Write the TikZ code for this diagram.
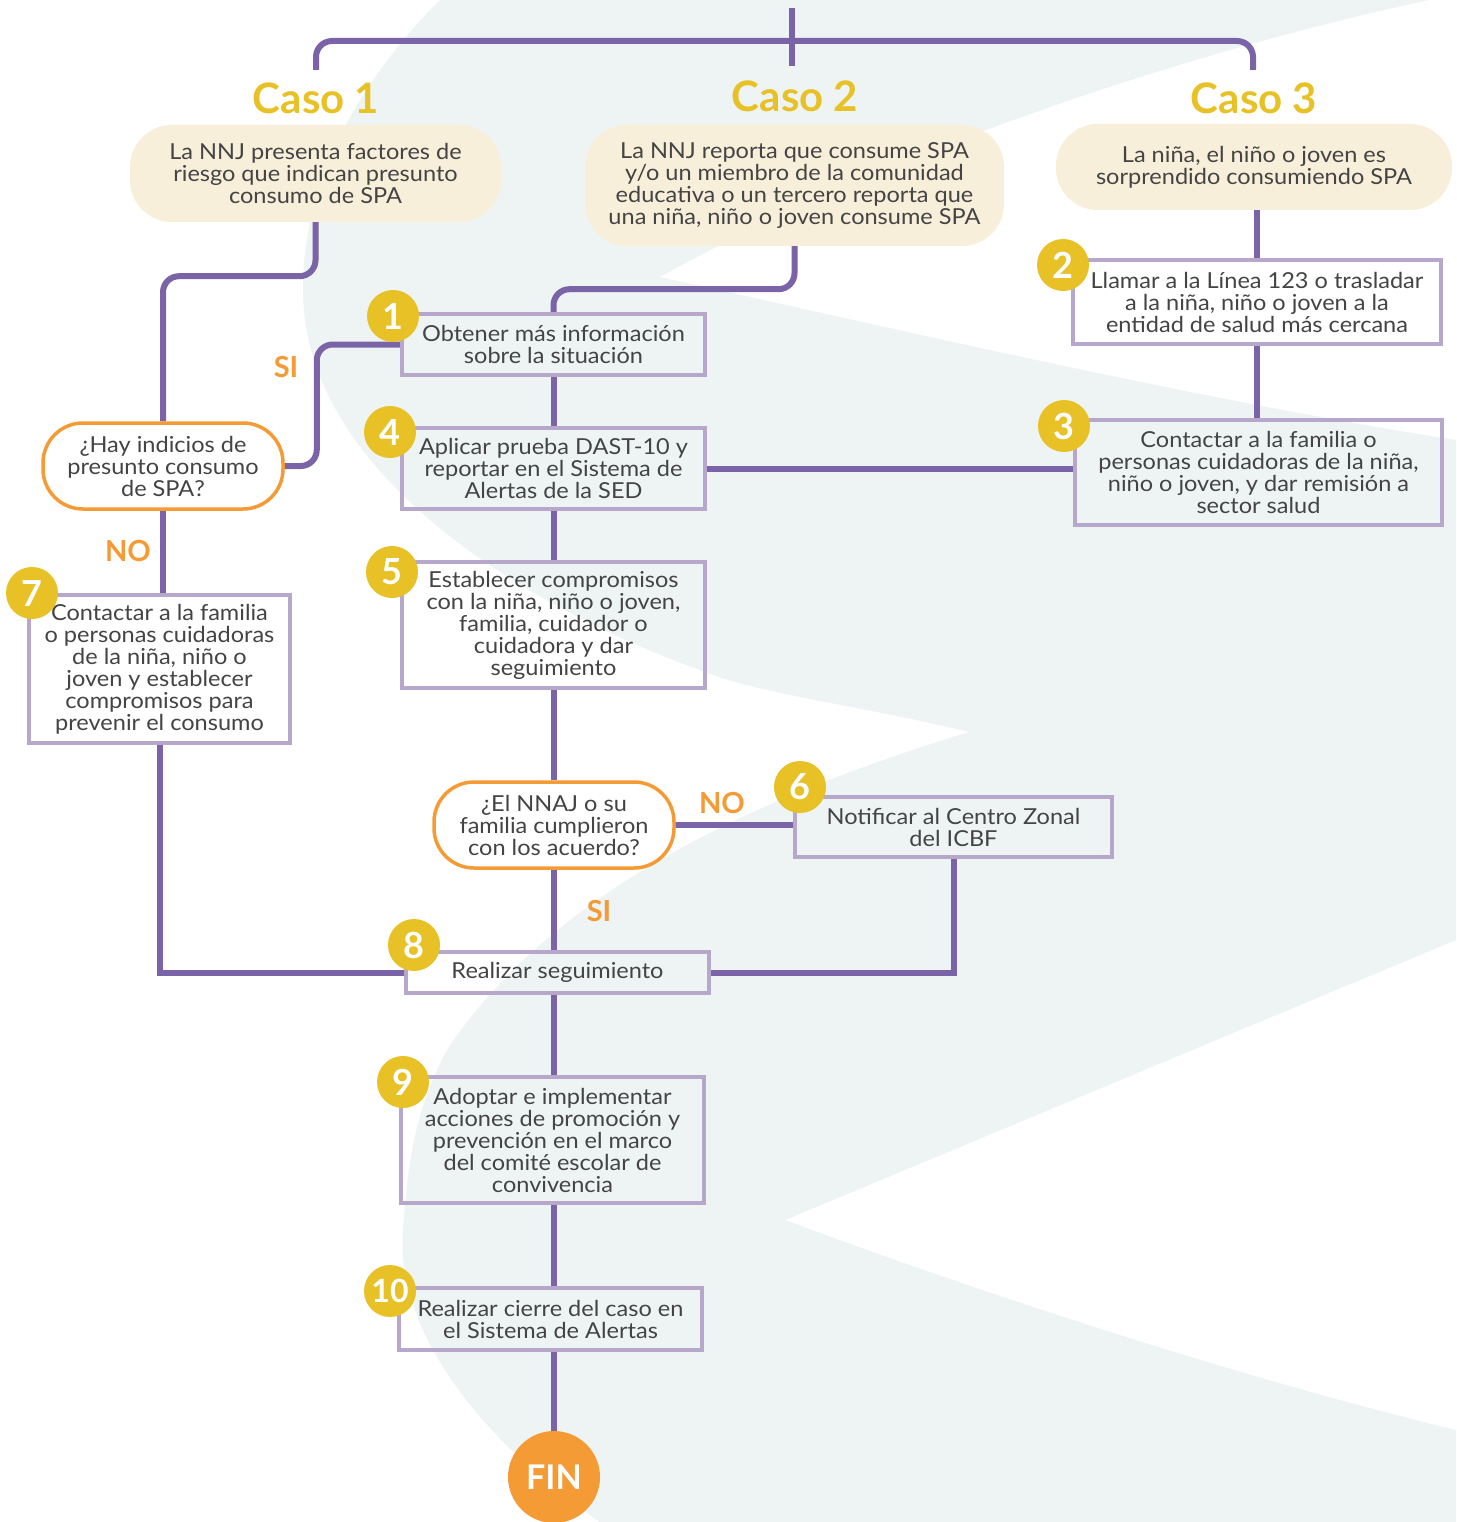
\documentclass[tikz,border=0pt]{standalone}
\usepackage{fontspec}
\setmainfont{Lato}
\newfontfamily\bodyfont{Lato}[FakeStretch=1.07]
\definecolor{lineP}{HTML}{7A63A6}
\definecolor{boxP}{HTML}{B6A7CB}
\definecolor{yellowC}{HTML}{E7C126}
\definecolor{orangeC}{HTML}{F59B35}
\definecolor{creamC}{HTML}{F8EFDA}
\definecolor{bgC}{HTML}{EEF4F4}
\definecolor{txtC}{HTML}{444444}
\pgfdeclarelayer{bglayer}
\pgfdeclarelayer{linelayer}
\pgfsetlayers{bglayer,linelayer,main}
\begin{document}
\begin{tikzpicture}[x=1pt,y=-1pt,
  conn/.style={draw=lineP, line width=6pt},
  txtfont/.style={font=\bodyfont\fontsize{22}{22}\selectfont, text=txtC, align=center},
  stepbox/.style={txtfont, draw=boxP, line width=4pt, rectangle, inner sep=0pt},
  cream/.style={txtfont, fill=creamC, rectangle, rounded corners=42pt, inner sep=0pt},
  dec/.style={txtfont, draw=orangeC, fill=white, line width=3.5pt, rectangle, rounded corners=40pt, inner sep=0pt},
  numc/.style={circle, fill=yellowC, text=white, font=\bfseries\fontsize{36}{36}\selectfont, minimum size=52pt, inner sep=0pt},
  lbl/.style={text=orangeC, font=\bfseries\fontsize{29}{29}\selectfont, inner sep=0pt},
  caso/.style={text=yellowC, font=\bfseries\fontsize{42}{42}\selectfont, inner sep=0pt}]
\useasboundingbox (0,0) rectangle (1456,1522);
\begin{pgfonlayer}{bglayer}
\fill[white] (0,0) rectangle (1456,1522);
\fill[bgC] (440,0) -- (1429,0) .. controls (1150,60) and (850,170) .. (660,277)
  .. controls (900,330) and (1200,400) .. (1456,440) -- (1456,940) -- (785,1220)
  .. controls (1000,1300) and (1250,1380) .. (1456,1430) -- (1456,1522) -- (600,1522)
  .. controls (480,1440) and (395,1330) .. (403,1230)
  .. controls (408,1150) and (420,1100) .. (447,1050)
  .. controls (560,880) and (780,790) .. (969,732)
  .. controls (880,710) and (800,700) .. (728,680)
  .. controls (520,610) and (303,470) .. (303,290)
  .. controls (303,170) and (370,70) .. (440,0) -- cycle;
\end{pgfonlayer}

% titles
\node[caso] (t1) at (316,98) {Caso 1};
\node[caso] (t2) at (795,96) {Caso 2};
\node[caso] (t3) at (1254,98) {Caso 3};

% cream boxes
\node[cream, minimum width=371pt, minimum height=97pt] (c1) at (315.5,173.5) {La NNJ presenta factores de\\riesgo que indican presunto\\consumo de SPA};
\node[cream, minimum width=419pt, minimum height=121pt] (c2) at (794.5,185.5) {La NNJ reporta que consume SPA\\y/o un miembro de la comunidad\\educativa o un tercero reporta que\\una niña, niño o joven consume SPA};
\node[cream, minimum width=396pt, minimum height=86pt] (c3) at (1254,167) {La niña, el niño o joven es\\sorprendido consumiendo SPA};

% step boxes
\node[stepbox, minimum width=303pt, minimum height=61pt] (b1) at (553.5,344.5) {Obtener más información\\sobre la situación};
\node[stepbox, minimum width=368pt, minimum height=84pt] (b2) at (1257,302) {Llamar a la Línea 123 o trasladar\\a la niña, niño o joven a la\\entidad de salud más cercana};
\node[stepbox, minimum width=367pt, minimum height=105pt] (b3) at (1258.5,472.5) {Contactar a la familia o\\personas cuidadoras de la niña,\\niño o joven, y dar remisión a\\sector salud};
\node[stepbox, minimum width=303pt, minimum height=81pt] (b4) at (553.5,468.5) {Aplicar prueba DAST-10 y\\reportar en el Sistema de\\Alertas de la SED};
\node[stepbox, minimum width=303pt, minimum height=126pt] (b5) at (553.5,625) {Establecer compromisos\\con la niña, niño o joven,\\familia, cuidador o\\cuidadora y dar\\seguimiento};
\node[stepbox, minimum width=317pt, minimum height=60pt] (b6) at (953.5,827) {Notificar al Centro Zonal\\del ICBF};
\node[stepbox, minimum width=261pt, minimum height=148pt] (b7) at (159.5,669) {Contactar a la familia\\o personas cuidadoras\\de la niña, niño o\\joven y establecer\\compromisos para\\prevenir el consumo};
\node[stepbox, minimum width=303pt, minimum height=41pt] (b8) at (557.5,972.5) {Realizar seguimiento};
\node[stepbox, minimum width=303pt, minimum height=126pt] (b9) at (552.5,1140) {Adoptar e implementar\\acciones de promoción y\\prevención en el marco\\del comité escolar de\\convivencia};
\node[stepbox, minimum width=303pt, minimum height=62pt] (b10) at (550.5,1319) {Realizar cierre del caso en\\el Sistema de Alertas};

% decisions
\node[dec, minimum width=240pt, minimum height=86pt] (d1) at (163,466) {¿Hay indicios de\\presunto consumo\\de SPA?};
\node[dec, minimum width=240pt, minimum height=86pt] (d2) at (554,825) {¿El NNAJ o su\\familia cumplieron\\con los acuerdo?};

% end
\node[circle, fill=orangeC, minimum size=92pt, inner sep=0pt, text=white, font=\bfseries\fontsize{34}{34}\selectfont] (fin) at (554,1477) {FIN};

% labels
\node[lbl] (si1) at (286,367) {SI};
\node[lbl] (no1) at (128,551) {NO};
\node[lbl] (no2) at (722,803) {NO};
\node[lbl] (si2) at (599,911) {SI};

% number circles
\node[numc] (n1) at (393,316) {1};
\node[numc] (n2) at (1063,265) {2};
\node[numc] (n3) at (1064,426) {3};
\node[numc] (n4) at (390,432) {4};
\node[numc] (n5) at (392,572) {5};
\node[numc] (n6) at (800,787) {6};
\node[numc] (n7) at (32,593) {7};
\node[numc] (n8) at (414,945) {8};
\node[numc] (n9) at (403,1082) {9};
\node[numc, font=\bfseries\fontsize{32}{32}\selectfont] (n10) at (390,1291) {10};

% connectors
\coordinate (top) at (792,8);
\coordinate (j2) at (792,41);
\coordinate (e1) at (316,70);
\coordinate (e3) at (1253,70);
\begin{pgfonlayer}{linelayer}
\draw[conn] (top) -- (792,66);
\draw[conn, rounded corners=16pt] (e1) |- (j2) -| (e3);
\draw[conn, rounded corners=16pt] (c1.south) -- ++(0,54) -| (d1.north);
\draw[conn, rounded corners=16pt] (d1.east) -- ++(32,0) |- (b1.west);
\draw[conn] (d1.south) -- (d1.south |- b7.north);
\draw[conn] (b7.south) |- (b8.west);
\draw[conn, rounded corners=16pt] (c2.south) -- ++(0,43) -| (b1.north);
\draw[conn] (b1.south) -- (b4.north);
\draw[conn] (b4.south) -- (b5.north);
\draw[conn] (b5.south -| d2.north) -- (d2.north);
\draw[conn] (b4.east) -- (b4.east -| b3.west);
\draw[conn] (d2.east) -- (d2.east -| b6.west);
\draw[conn] (b6.south) |- (b8.east);
\draw[conn] (d2.south) -- (d2.south |- b8.north);
\draw[conn] (d2.south |- b8.south) -- (d2.south |- b9.north);
\draw[conn] (d2.south |- b9.south) -- (d2.south |- b10.north);
\draw[conn] (d2.south |- b10.south) -- (fin.north);
\draw[conn] (c3.south -| b2.north) -- (b2.north);
\draw[conn] (b2.south) -- (b2.south |- b3.north);
\end{pgfonlayer}
\end{tikzpicture}
\end{document}
